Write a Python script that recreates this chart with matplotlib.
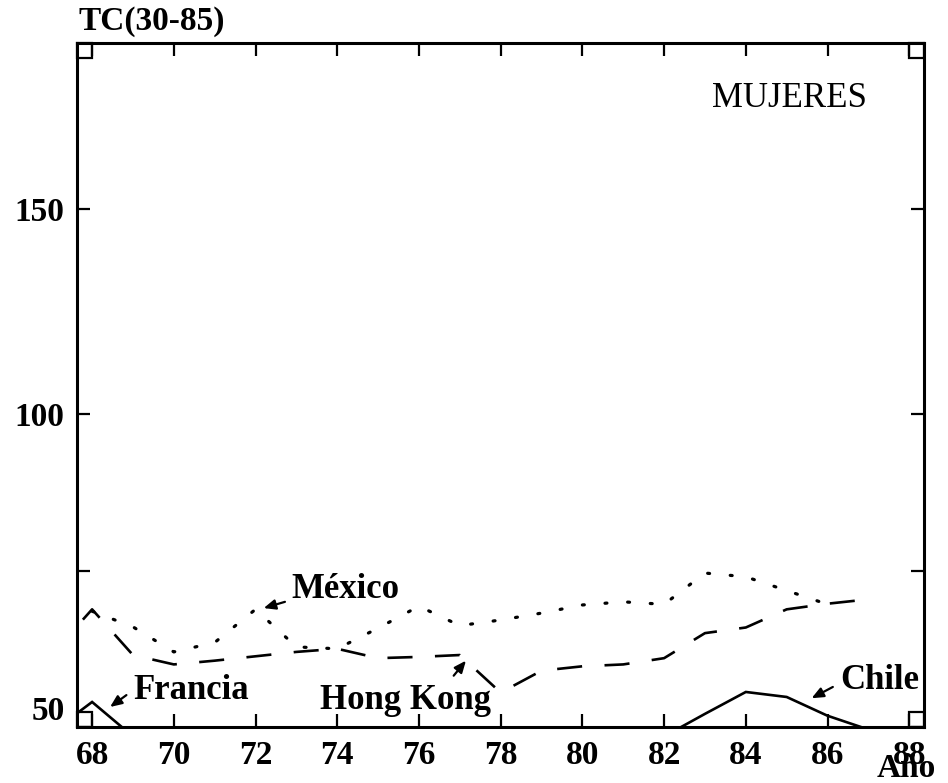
import matplotlib
matplotlib.use("Agg")
import matplotlib.pyplot as plt
from matplotlib.patches import Rectangle
import numpy as np

plt.rcParams['font.family'] = ['Liberation Serif', 'DejaVu Serif']

# tasas truncadas 30-85, mujeres
years_hk = [67, 68, 69, 70, 71, 72, 73, 74, 75, 76, 77, 78, 79, 80, 81, 82, 83, 84, 85, 86, 87]
hong_kong = [61.5, 68.8, 61.5, 60.0, 60.6, 61.3, 62.0, 62.5, 61.0, 61.2, 61.5, 55.5, 59.0,
             59.7, 60.0, 61.0, 65.0, 65.9, 68.8, 69.7, 70.4]

years_mx = [68, 69, 70, 71, 72, 73, 74, 75, 76, 77, 78, 79, 80, 81, 82, 83, 84, 85, 86]
mexico = [68.5, 66.0, 62.0, 63.5, 68.8, 62.8, 62.5, 65.8, 69.3, 66.2, 67.1, 68.2, 69.5,
          70.0, 69.6, 74.6, 74.0, 71.8, 69.6]

years_fr = [67, 68, 69]
francia = [49.1, 54.0, 48.5]

years_cl = [82, 83, 84, 85, 86, 87]
chile = [48.5, 52.1, 55.6, 54.8, 51.8, 49.6]

xticks = [68, 70, 72, 74, 76, 78, 80, 82, 84, 86, 88]
yticks = [50, 75, 100, 150]
ytick_labels = ['50', '', '100', '150']


# eje vertical por tramos: 50-100 mas ancho que 100-150
def fwd(y):
    y = np.asarray(y, dtype=float)
    return np.where(y <= 100, (y - 50) * 313 / 50, 313 + (y - 100) * 205 / 50)


def inv(p):
    p = np.asarray(p, dtype=float)
    return np.where(p <= 313, 50 + p * 50 / 313, 100 + (p - 313) * 50 / 205)


fig = plt.figure(figsize=(9.48, 7.83), dpi=100)
ax = fig.add_axes([0.0812, 0.0715, 0.8930, 0.8735])
ax.set_yscale('function', functions=(fwd, inv))
ax.set_xlim(67.63, 88.35)
ax.set_ylim(50, 190.5)

lw = 1.9
ax.plot(years_hk, hong_kong, color='black', lw=lw, linestyle=(0, (9.5, 8.5)))
ax.plot(years_mx, mexico, color='black', lw=2.3, linestyle=(0, (0.6, 6.5)),
        dash_capstyle='round')
ax.plot(years_fr, francia, color='black', lw=lw, solid_joinstyle='miter')
ax.plot(years_cl, chile, color='black', lw=lw, solid_joinstyle='miter')

for sp in ax.spines.values():
    sp.set_linewidth(2.2)

ax.set_xticks(xticks)
ax.set_xticklabels([str(t) for t in xticks])
ax.set_yticks(yticks)
ax.set_yticklabels(ytick_labels)
ax.minorticks_off()
ax.tick_params(direction='in', length=9.5, width=1.6, top=True, right=True,
               labelsize=24, pad=9)
for lab in ax.get_xticklabels() + ax.get_yticklabels():
    lab.set_fontweight('bold')
ax.yaxis.get_major_ticks()[0].label1.set_va('bottom')

# cuadritos en las esquinas
sw = 15 / 846.5
sh = 15 / 684
for cx, cy in [(0, 0), (1 - sw, 0), (0, 1 - sh), (1 - sw, 1 - sh)]:
    ax.add_patch(Rectangle((cx, cy), sw, sh, transform=ax.transAxes, fill=False,
                           lw=1.6, edgecolor='black', clip_on=False))

arrow = dict(arrowstyle='-|>,head_length=0.7,head_width=0.3', color='black',
             lw=1.6, shrinkA=0, shrinkB=0)
ax.annotate('', xy=(72.20, 69.0), xytext=(72.72, 70.0), arrowprops=arrow)
ax.annotate('', xy=(68.44, 53.2), xytext=(68.84, 55.1), arrowprops=arrow)
ax.annotate('', xy=(77.15, 60.6), xytext=(76.85, 58.2), arrowprops=arrow)
ax.annotate('', xy=(85.61, 54.6), xytext=(86.13, 56.4), arrowprops=arrow)

tkw = dict(fontsize=25, fontweight='bold', ha='left', va='center')
ax.text(72.88, 72.0, 'México', **tkw)
ax.text(69.0, 55.9, 'Francia', **tkw)
ax.text(73.57, 54.3, 'Hong Kong', **tkw)
ax.text(86.3, 57.5, 'Chile', **tkw)

ax.text(0.75, 0.9196, 'MUJERES', transform=ax.transAxes, fontsize=25,
        ha='left', va='center')
fig.text(0.0823, 0.972, 'TC(30-85)', fontsize=24, fontweight='bold',
         ha='left', va='center')
fig.text(0.925, 0.018, 'Año', fontsize=24, fontweight='bold',
         ha='left', va='center')

fig.savefig('out.png', dpi=100)
